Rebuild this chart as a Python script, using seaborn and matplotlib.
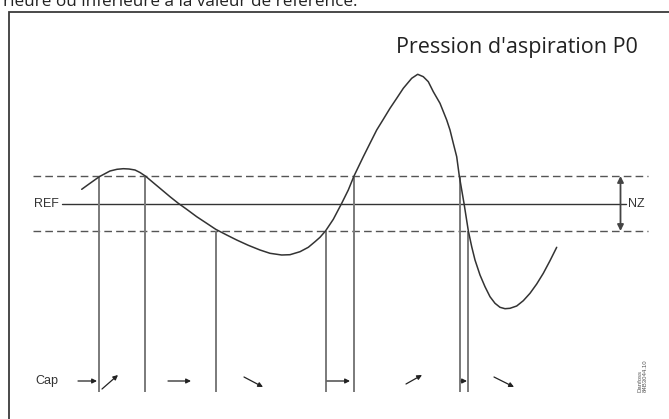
import matplotlib
matplotlib.use("Agg")
import matplotlib.pyplot as plt
import seaborn as sns
import pandas as pd

# ---------------- data (diagram coordinates, y grows downward) ----------------
curve_x = [81.7, 90, 99.3, 110, 117, 123.3, 129, 135, 140, 145.7, 153.3, 160, 170, 178.3,
           186.7, 196.7, 206.7, 215.7, 226.7, 236.7, 248.3, 260, 270, 281.7, 290, 300,
           308.3, 315, 320, 325.7, 333.3, 341.7, 348.3, 354, 363.3, 370, 376.7, 383.3,
           390, 396.7, 403.3, 411.7, 417.7, 423.3, 428.3, 433.3, 440, 446.7, 450, 453.3,
           456.7, 459.3, 464, 468.3, 471.7, 475, 480, 485, 490, 495, 500, 505, 510,
           516.7, 523.3, 530, 536.7, 543.3, 550, 556.7]
curve_y = [189.3, 183.3, 176.7, 171, 169.3, 168.7, 169, 170, 172.5, 176.3, 182.7, 188.3,
           196.7, 203.3, 209.3, 216.7, 223.3, 229.3, 235, 240, 245.3, 250, 253.3, 255,
           254.7, 251.7, 247.3, 241.7, 237.3, 230.7, 219.3, 203.3, 190, 176, 156.7,
           143.3, 130, 119.3, 108.3, 98.3, 88.3, 78.3, 74.3, 76.7, 81.7, 91.7, 103.3,
           120, 130, 143.3, 156.7, 176, 203.3, 230.7, 246.7, 260, 275, 286.7, 296.7,
           303.3, 307.3, 308.7, 308.3, 306, 300.7, 293.3, 284, 273.3, 260.7, 247.3]

ref_level = 203.5
nz_upper = 176
nz_lower = 231
band_x = [33, 648]
ref_x = [62, 626]

switch_x = [99, 145, 216, 326, 354, 460, 468]
switch_top = [176, 176, 231, 231, 176, 176, 231]
switch_bottom = 392

cap_arrow_x0 = [78, 102, 168, 244, 327, 406, 461, 494]
cap_arrow_y0 = [381, 389, 381, 377, 381, 384, 381, 377]
cap_arrow_x1 = [97, 118, 191, 263, 350, 422, 467, 514]
cap_arrow_y1 = [381, 375, 381, 387, 381, 375, 381, 387]

title = "Pression d'aspiration P0"
top_text = "rieure ou inférieure à la valeur de référence."
labels = {"REF": "REF", "NZ": "NZ", "Cap": "Cap"}
stamp = "Danfoss\n84B3044.10"

# ---------------- figure ----------------
sns.set_style("white")
plt.rcParams["font.family"] = ["Liberation Sans", "DejaVu Sans"]

W, H = 669, 419
fig = plt.figure(figsize=(W / 100, H / 100), dpi=100)
ax = fig.add_axes([0, 0, 1, 1])

# frame of the diagram (cropped on right/bottom)
ax.plot([9, 9, W + 5], [H + 5, 12, 12], color="#3a3a3a", lw=1.3, solid_joinstyle="miter")

# cropped caption text at the very top
ax.text(3, 5.5, top_text, fontsize=12.3, family=["Open Sans", "DejaVu Sans"],
        color="#222222", ha="left", va="baseline")

# title
ax.text(638, 48, title, fontsize=15.5, family=["Open Sans", "DejaVu Sans"],
        color="#222222", ha="right", va="center")

# dashed band lines
dash_style = dict(color="#555555", lw=1.0, linestyle=(0, (5.5, 3)))
ax.plot(band_x, [nz_upper, nz_upper], **dash_style)
ax.plot(band_x, [nz_lower, nz_lower], **dash_style)

# REF line
ax.plot(ref_x, [ref_level, ref_level], color="#333333", lw=1.0)
ax.text(34, ref_level, labels["REF"], fontsize=9, color="#333333", ha="left", va="center")
ax.text(628, ref_level, labels["NZ"], fontsize=9, color="#333333", ha="left", va="center")

# NZ double arrow
ax.annotate("", xy=(620.5, nz_upper), xytext=(620.5, nz_lower),
            arrowprops=dict(arrowstyle="<|-|>", color="#444444", lw=1.3,
                            mutation_scale=9, shrinkA=0, shrinkB=0))

# switch (vertical) lines
ax.vlines(switch_x, switch_top, switch_bottom, color="#7a7a7a", lw=1.4)

# pressure curve
df = pd.DataFrame({"t": curve_x, "p": curve_y})
sns.lineplot(data=df, x="t", y="p", ax=ax, color="#333333", lw=1.1,
             estimator=None, sort=False, solid_joinstyle="round",
             solid_capstyle="round")

# capacity arrows
ax.text(35, 381, labels["Cap"], fontsize=9, color="#333333", ha="left", va="center")
for x0, y0, x1, y1 in zip(cap_arrow_x0, cap_arrow_y0, cap_arrow_x1, cap_arrow_y1):
    ax.annotate("", xy=(x1, y1), xytext=(x0, y0),
                arrowprops=dict(arrowstyle="-|>", color="#222222", lw=0.9,
                                mutation_scale=7, shrinkA=0, shrinkB=0))

# drawing stamp
ax.text(643, 392, stamp, fontsize=4.3, color="#555555", rotation=90,
        ha="center", va="bottom", multialignment="left", linespacing=1.0)

ax.set_xlim(0, W)
ax.set_ylim(H, 0)
ax.axis("off")

fig.savefig("out.png", dpi=100)
